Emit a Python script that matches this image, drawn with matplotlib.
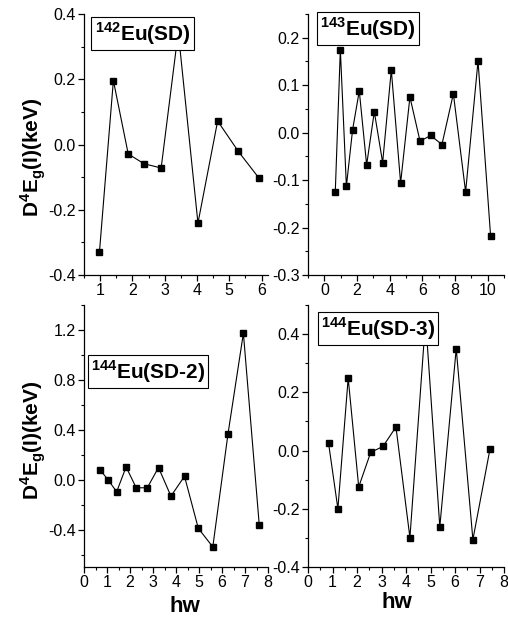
import matplotlib
matplotlib.use('Agg')
import matplotlib.pyplot as plt
from matplotlib.ticker import MultipleLocator

plt.rcParams['font.family'] = ['Liberation Sans', 'DejaVu Sans']
plt.rcParams['mathtext.fontset'] = 'custom'
plt.rcParams['mathtext.rm'] = 'Liberation Sans'
plt.rcParams['mathtext.bf'] = 'Liberation Sans:bold'

# 142Eu(SD)
x142 = [0.98, 1.41, 1.87, 2.36, 2.89, 3.42, 4.03, 4.64, 5.28, 5.92]
y142 = [-0.328, 0.196, -0.029, -0.059, -0.072, 0.345, -0.241, 0.072, -0.021, -0.103]

# 143Eu(SD)
x143 = [0.67, 0.98, 1.35, 1.73, 2.14, 2.59, 3.06, 3.57, 4.10, 4.67, 5.24, 5.86,
        6.51, 7.20, 7.90, 8.65, 9.41, 10.18]
y143 = [-0.125, 0.175, -0.113, 0.006, 0.088, -0.068, 0.044, -0.063, 0.132, -0.106,
        0.075, -0.018, -0.006, -0.025, 0.082, -0.125, 0.151, -0.218]

# 144Eu(SD-2)
x144_2 = [0.69, 1.04, 1.42, 1.83, 2.27, 2.75, 3.24, 3.78, 4.37, 4.97, 5.60, 6.26, 6.93, 7.62]
y144_2 = [0.081, 0.0, -0.097, 0.102, -0.065, -0.065, 0.097, -0.132, 0.027, -0.39,
          -0.539, 0.366, 1.174, -0.364]

# 144Eu(SD-3)
x144_3 = [0.84, 1.22, 1.64, 2.07, 2.56, 3.06, 3.59, 4.16, 4.80, 5.38, 6.05, 6.73, 7.43]
y144_3 = [0.025, -0.2, 0.249, -0.125, -0.006, 0.014, 0.081, -0.299, 0.45, -0.262,
          0.350, -0.306, 0.006]

W, H = 508, 620
fig = plt.figure(figsize=(W / 100, H / 100), dpi=100)


def make_ax(left, right, top, bottom):
    return fig.add_axes([left / W, 1 - bottom / H, (right - left) / W, (bottom - top) / H])


panels = [
    # x, y, label, box centre (axes frac), xlim, ylim, x major/minor, y major/minor, pixel box
    (x142, y142, r'$^{\mathbf{142}}$Eu(SD)', (0.318, 0.926), (0.5, 6.2), (-0.4, 0.4),
     (1, 0.5), (0.2, 0.1), (84, 268, 14, 275)),
    (x143, y143, r'$^{\mathbf{143}}$Eu(SD)', (0.304, 0.945), (-1, 11), (-0.3, 0.25),
     (2, 1), (0.1, 0.05), (308, 504, 14, 275)),
    (x144_2, y144_2, r'$^{\mathbf{144}}$Eu(SD-2)', (0.347, 0.745), (0, 8), (-0.7, 1.4),
     (1, 0.5), (0.4, 0.2), (84, 268, 305, 567)),
    (x144_3, y144_3, r'$^{\mathbf{144}}$Eu(SD-3)', (0.357, 0.910), (0, 8), (-0.4, 0.5),
     (1, 0.5), (0.2, 0.1), (308, 504, 305, 567)),
]

for xs, ys, label, bpos, xlim, ylim, xt, yt, box in panels:
    ax = make_ax(*box)
    ax.plot(xs, ys, color='black', lw=0.8, marker='s', markersize=4.5, clip_on=False)
    ax.set_xlim(xlim)
    ax.set_ylim(ylim)
    ax.xaxis.set_major_locator(MultipleLocator(xt[0]))
    ax.xaxis.set_minor_locator(MultipleLocator(xt[1]))
    ax.yaxis.set_major_locator(MultipleLocator(yt[0]))
    ax.yaxis.set_minor_locator(MultipleLocator(yt[1]))
    ax.yaxis.set_major_formatter(plt.FormatStrFormatter('%.1f'))
    ax.spines['top'].set_visible(False)
    ax.spines['right'].set_visible(False)
    for s in ['left', 'bottom']:
        ax.spines[s].set_linewidth(0.9)
    ax.tick_params(which='major', direction='out', length=4, width=0.9, labelsize=11.5, pad=2)
    ax.tick_params(which='minor', direction='out', length=2.5, width=0.8)
    ax.set_facecolor('none')
    ax.text(bpos[0], bpos[1], label, transform=ax.transAxes, ha='center', va='center',
            fontsize=15, fontweight='bold', zorder=10,
            bbox=dict(boxstyle='square,pad=0.15', fc='white', ec='black', lw=0.8))

ylab = r'D$^{\mathbf{4}}$E$_{\mathbf{g}}$(I)(keV)'
fig.text(33 / W, 1 - 157 / H, ylab, rotation=90, ha='center', va='center',
         fontsize=15, fontweight='bold')
fig.text(33 / W, 1 - 440 / H, ylab, rotation=90, ha='center', va='center',
         fontsize=15, fontweight='bold')
fig.text(185 / W, 1 - 607 / H, 'hw', ha='center', va='center', fontsize=16, fontweight='bold')
fig.text(397 / W, 1 - 603 / H, 'hw', ha='center', va='center', fontsize=16, fontweight='bold')

fig.savefig('out.png', dpi=100)
